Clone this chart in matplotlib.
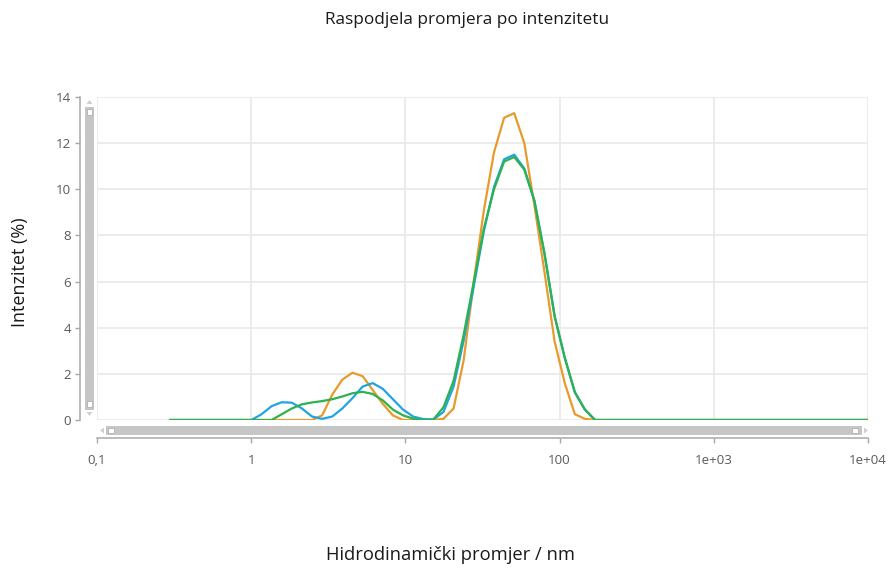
import numpy as np
import matplotlib
matplotlib.use('Agg')
from matplotlib import pyplot as plt
from matplotlib.patches import Rectangle, Polygon
from matplotlib.ticker import NullLocator

plt.rcParams['font.family'] = ['Open Sans', 'DejaVu Sans']

# size classes (nm), 70 log-spaced bins
sizes = [0.3, 0.3488, 0.4056, 0.4717, 0.5485, 0.6378, 0.7416, 0.8629, 1.0035, 1.1668,
         1.357, 1.578, 1.835, 2.133, 2.481, 2.884, 3.354, 3.900, 4.539, 5.279,
         6.138, 7.138, 8.299, 9.655, 11.23, 13.06, 15.18, 17.65, 20.54, 23.88,
         27.77, 32.29, 37.55, 43.67, 50.78, 59.05, 68.66, 79.85, 92.85, 108.0,
         125.6, 146.0, 169.8, 197.4, 229.7, 267.2, 310.8, 361.4, 420.3, 488.8,
         568.4, 661.1, 768.8, 894.1, 1040.0, 1209.0, 1406.0, 1636.0, 1902.0, 2212.0,
         2573.0, 2992.0, 3480.0, 4047.0, 4706.0, 5473.0, 6365.0, 7403.0, 8609.0, 10000.0]

# intensity (%) per size class for the three measurements
blue = [0.0] * 9 + [0.25, 0.6, 0.77, 0.75, 0.5, 0.15, 0.05, 0.15, 0.5, 0.95,
                    1.45, 1.6, 1.35, 0.9, 0.45, 0.15, 0.04, 0.02, 0.35, 1.45,
                    3.45, 5.8, 8.2, 10.1, 11.3, 11.5, 10.9, 9.5, 7.2, 4.5,
                    2.7, 1.2, 0.45] + [0.0] * 28
orange = [0.0] * 15 + [0.2, 1.1, 1.75, 2.05, 1.9, 1.3, 0.7, 0.2, 0.0, 0.0,
                       0.0, 0.0, 0.05, 0.5, 2.6, 6.0, 9.1, 11.6, 13.1, 13.3,
                       12.0, 9.3, 6.4, 3.4, 1.6, 0.25, 0.05] + [0.0] * 28
green = [0.0] * 11 + [0.25, 0.5, 0.68, 0.76, 0.82, 0.9, 1.02, 1.16, 1.22, 1.13,
                      0.85, 0.45, 0.2, 0.06, 0.0, 0.02, 0.55, 1.7, 3.7, 6.0,
                      8.3, 10.0, 11.2, 11.4, 10.85, 9.5, 7.2, 4.5, 2.7, 1.2,
                      0.45] + [0.0] * 28

xticks = [0.1, 1, 10, 100, 1000, 10000]
xticklabels = ['0,1', '1', '10', '100', '1e+03', '1e+04']
yticks = [0, 2, 4, 6, 8, 10, 12, 14]

W, H = 889, 568
fig = plt.figure(figsize=(W / 100, H / 100), dpi=100)

def fig_xy(x, y):
    return (x / W, 1 - y / H)

def box(x0, y0, x1, y1, **kw):
    fig.add_artist(Rectangle(fig_xy(x0, y1), (x1 - x0) / W, (y1 - y0) / H,
                             transform=fig.transFigure, **kw))

def tri(pts, **kw):
    fig.add_artist(Polygon([fig_xy(x, y) for x, y in pts], closed=True,
                           transform=fig.transFigure, **kw))

ax = fig.add_axes([97 / W, 1 - 420 / H, 771 / W, 323 / H])
ax.set_xscale('log')
ax.set_xlim(0.1, 10000)
ax.set_ylim(0, 14)

ax.plot(sizes, orange, color='#e89a2c', lw=1.6, zorder=3)
ax.plot(sizes, blue, color='#20a4e4', lw=1.6, zorder=4)
ax.plot(sizes, green, color='#2db24e', lw=1.6, zorder=5)

ax.set_xticks(xticks)
ax.set_xticklabels(xticklabels)
ax.xaxis.set_minor_locator(NullLocator())
ax.set_yticks(yticks)
ax.grid(True, color='#e9e9e9', lw=1.2)
for g in ax.get_xgridlines() + ax.get_ygridlines():
    g.set_clip_on(False)
ax.set_axisbelow(True)

for s in ['top', 'right']:
    ax.spines[s].set_visible(False)
ax.spines['left'].set_position(('outward', 12.2))
ax.spines['bottom'].set_position(('outward', 12.6))
for s in ['left', 'bottom']:
    ax.spines[s].set_color('#a8a8a8')
    ax.spines[s].set_linewidth(1.1)
ax.tick_params(axis='both', direction='out', length=3.5, width=1.0,
               color='#a8a8a8', labelcolor='#5a5a5a', labelsize=9.6)
ax.tick_params(axis='y', pad=3)
ax.tick_params(axis='x', pad=8.5)

# scroll bars
bar = '#c6c6c6'
box(85, 107, 94, 410, color=bar, lw=0)
box(87, 109, 92, 115, facecolor='white', edgecolor='#b0b0b0', lw=0.6)
box(87, 401, 92, 407, facecolor='white', edgecolor='#b0b0b0', lw=0.6)
tri([(86.5, 104), (92.5, 104), (89.5, 100)], color='#cfcfcf', lw=0)
tri([(86.5, 412), (92.5, 412), (89.5, 416)], color='#cfcfcf', lw=0)

box(106, 426, 862, 435, color=bar, lw=0)
box(108, 428, 114, 433, facecolor='white', edgecolor='#b0b0b0', lw=0.6)
box(852, 428, 858, 433, facecolor='white', edgecolor='#b0b0b0', lw=0.6)
tri([(104, 427.5), (104, 433.5), (100, 430.5)], color='#cfcfcf', lw=0)
tri([(864, 427.5), (864, 433.5), (868, 430.5)], color='#cfcfcf', lw=0)

fig.text(467 / W, 1 - 20 / H, 'Raspodjela promjera po intenzitetu',
         ha='center', va='center', fontsize=12.4, color='#1a1a1a')
fig.text(450 / W, 1 - 555 / H, 'Hidrodinamički promjer / nm',
         ha='center', va='center', fontsize=13.2, color='#1a1a1a')
fig.text(20 / W, 1 - 272 / H, 'Intenzitet (%)', rotation=90,
         ha='center', va='center', fontsize=13, color='#1a1a1a')

fig.savefig('out.png', dpi=100)
